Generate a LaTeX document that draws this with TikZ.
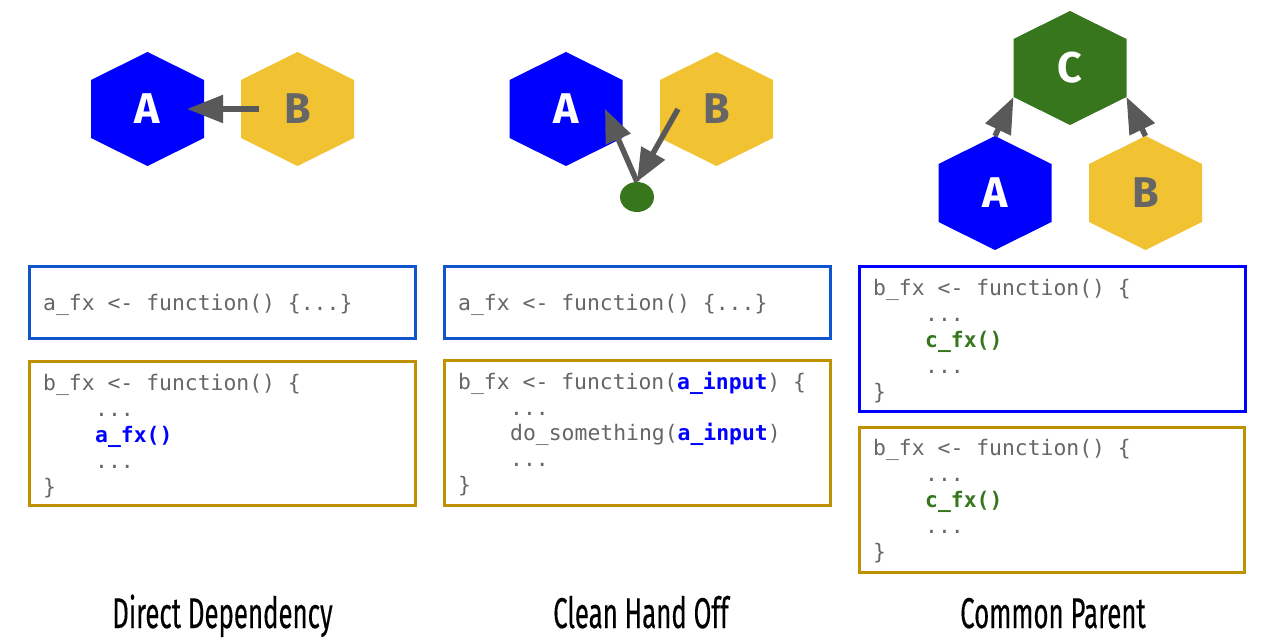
\documentclass[tikz,border=0pt]{standalone}
\usepackage{fontspec}
\usepackage{graphicx}
\usetikzlibrary{arrows.meta,shapes.geometric}
\setmainfont{Fira Sans}
\newfontfamily\codefont{DejaVu Sans Mono}
\newfontfamily\titlefont{Fira Sans}[FakeBold=0.4, Ligatures=NoCommon]
\definecolor{hblue}{HTML}{0000FF}
\definecolor{hgold}{HTML}{F1C232}
\definecolor{hgreen}{HTML}{38761D}
\definecolor{agray}{HTML}{595959}
\definecolor{tgray}{HTML}{666666}
\definecolor{bblue}{HTML}{1155CC}
\definecolor{bgold}{HTML}{BF9000}
\tikzset{
  hexlabel/.style={inner sep=0pt, font=\bfseries\fontsize{43}{43}\selectfont},
  arr/.style={draw=agray, line width=5.5pt, -{Triangle[length=36pt,width=27pt]}},
  codebox/.style={line width=3pt},
  code/.style={inner sep=0pt, anchor=base west, text=tgray, font=\codefont\fontsize{21.4}{26}\selectfont},
  title/.style={inner sep=0pt, anchor=base, font=\titlefont\fontsize{43}{43}\selectfont},
}
\newcommand{\drawhex}[5]{%
  \fill[#4] (#2-56.5,#3-29) -- (#2,#3-57) -- (#2+56.5,#3-29) -- (#2+56.5,#3+29) -- (#2,#3+57) -- (#2-56.5,#3+29) -- cycle;
  \coordinate (#1-t) at (#2,#3-57);
  \coordinate (#1-ll) at (#2-56.5,#3+29);
  \coordinate (#1-lr) at (#2+56.5,#3+29);
  \node[hexlabel] (#1) at (#2,#3) {#5};
}
\newcommand{\bl}[1]{\textcolor{hblue}{\bfseries #1}}
\newcommand{\gr}[1]{\textcolor{hgreen}{\bfseries #1}}
\begin{document}
\begin{tikzpicture}[x=1pt,y=-1pt]
\fill[white] (0,0) rectangle (1270,639);
\useasboundingbox (0,0) rectangle (1270,639);

% ---------- Panel 1: Direct Dependency ----------
\drawhex{A1}{147.5}{109}{hblue}{\textcolor{white}{A}}
\drawhex{B1}{297.5}{109}{hgold}{\textcolor{tgray}{B}}
\coordinate (p1s) at (259,109);
\coordinate (p1e) at (187,109);
\draw[arr] (p1s) -- (p1e);

\draw[codebox, draw=bblue] (29.5,266.5) rectangle (415.5,338.5);
\node[code] (c1a) at (43,311) {a\_fx <- function() \{...\}};
\draw[codebox, draw=bgold] (29.5,361.5) rectangle (415.5,505.5);
\node[code] (c1b1) at (43,390) {b\_fx <- function() \{};
\node[code] (c1b2) at (95,416) {...};
\node[code] (c1b3) at (95,442) {\bl{a\_fx()}};
\node[code] (c1b4) at (95,468) {...};
\node[code] (c1b5) at (43,494) {\}};

\node[title] (t1) at (222.5,628) {\scalebox{0.6}[1]{Direct Dependency}};

% ---------- Panel 2: Clean Hand Off ----------
\drawhex{A2}{566}{109}{hblue}{\textcolor{white}{A}}
\drawhex{B2}{716.5}{109}{hgold}{\textcolor{tgray}{B}}
\node[ellipse, fill=hgreen, minimum width=34pt, minimum height=30pt, inner sep=0pt] (dot) at (637,197) {};
\coordinate (p2a) at (605,109);
\coordinate (p2b) at (678,109);
\draw[arr, -{Triangle[length=33pt,width=26pt]}] (dot.north) -- (p2a);
\draw[arr, -{Triangle[length=33pt,width=26pt]}] (p2b) -- (dot.north);

\draw[codebox, draw=bblue] (444.5,266.5) rectangle (830.5,338.5);
\node[code] (c2a) at (458,311) {a\_fx <- function() \{...\}};
\draw[codebox, draw=bgold] (444.5,360.5) rectangle (830.5,505.5);
\node[code] (c2b1) at (458,389) {b\_fx <- function(\bl{a\_input}) \{};
\node[code] (c2b2) at (510,415) {...};
\node[code] (c2b3) at (510,440) {do\_something(\bl{a\_input})};
\node[code] (c2b4) at (510,466) {...};
\node[code] (c2b5) at (458,492) {\}};

\node[title] (t2) at (641,628) {\scalebox{0.6}[1]{Clean Hand Off}};

% ---------- Panel 3: Common Parent ----------
\drawhex{C3}{1070}{68}{hgreen}{\textcolor{white}{C}}
\drawhex{A3}{995}{193}{hblue}{\textcolor{white}{A}}
\drawhex{B3}{1145.5}{193}{hgold}{\textcolor{tgray}{B}}
\draw[arr] (A3-t) -- (C3-ll);
\draw[arr] (B3-t) -- (C3-lr);

\draw[codebox, draw=hblue] (859.5,266.5) rectangle (1245.5,411.5);
\node[code] (c3a1) at (873,295) {b\_fx <- function() \{};
\node[code] (c3a2) at (925,321) {...};
\node[code] (c3a3) at (925,347) {\gr{c\_fx()}};
\node[code] (c3a4) at (925,373) {...};
\node[code] (c3a5) at (873,399) {\}};
\draw[codebox, draw=bgold] (859.5,427.5) rectangle (1244.5,572.5);
\node[code] (c3b1) at (873,455) {b\_fx <- function() \{};
\node[code] (c3b2) at (925,481) {...};
\node[code] (c3b3) at (925,507) {\gr{c\_fx()}};
\node[code] (c3b4) at (925,533) {...};
\node[code] (c3b5) at (873,559) {\}};

\node[title] (t3) at (1053,628) {\scalebox{0.6}[1]{Common Parent}};
\end{tikzpicture}
\end{document}
